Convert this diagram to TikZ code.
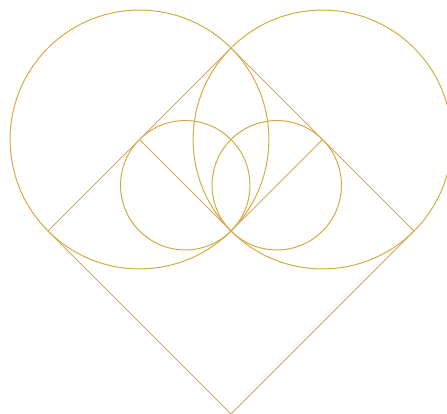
\documentclass[tikz,border=0pt]{standalone}
\definecolor{gold}{HTML}{D4AC45}
\definecolor{tan}{HTML}{D9A260}
\begin{document}
\begin{tikzpicture}[x=1pt,y=1pt,
  circ/.style={draw=gold,line width=1pt},
  sq/.style={draw=tan,line width=1pt,line join=miter}]
\useasboundingbox (0,0) rectangle (447,414);
\clip (0,0) rectangle (447,414);
\coordinate (O) at (231,183);
\coordinate (T) at (231,366);
\coordinate (L) at (48,183);
\coordinate (R) at (414,183);
\coordinate (B) at (231,0);
\coordinate (ML) at (139.5,274.5);
\coordinate (MR) at (322.5,274.5);
\coordinate (SL) at (185.25,228.75);
\coordinate (SR) at (276.75,228.75);
\draw[sq] (T) -- (R) -- (B) -- (L) -- cycle;
\draw[sq] (ML) -- (O) -- (MR);
\draw[circ] (ML) circle (129.4);
\draw[circ] (MR) circle (129.4);
\draw[circ] (SL) circle (64.7);
\draw[circ] (SR) circle (64.7);
\end{tikzpicture}
\end{document}
